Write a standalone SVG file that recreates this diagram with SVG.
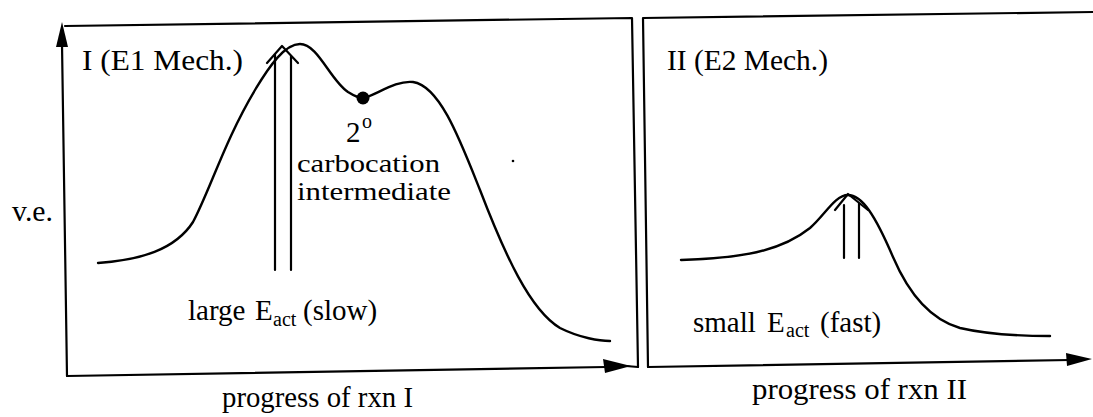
<svg xmlns="http://www.w3.org/2000/svg" width="1093" height="417" viewBox="0 0 1093 417">
<style>
.ln{fill:none;stroke:#000;stroke-width:2.2;stroke-linecap:round;stroke-linejoin:round}
.cv{fill:none;stroke:#000;stroke-width:2.4;stroke-linecap:round}
.t{font-family:"Liberation Serif","Times New Roman","DejaVu Serif",serif;font-size:29px;fill:#000}
.s{font-size:20px}
.m{font-size:25px}
.ah{fill:#000;stroke:none}
</style>
<rect width="1093" height="417" fill="#fff"/>
<g id="frame-I">
<path class="ln" d="M67,376 L62,44"/>
<polygon class="ah" points="62,22 56,47 68,47"/>
<path class="ln" d="M65,26 L632,18 L638,367"/>
<path class="ln" d="M67,376 L606,367 M626,366 L638,367"/>
<polygon class="ah" points="631,366 603,359 605,373"/>
</g>
<g id="frame-II">
<path class="ln" d="M648,367 L643,18 L1093,12"/>
<path class="ln" d="M648,367 L1070,360"/>
<polygon class="ah" points="1092,359 1066,353 1067,366"/>
</g>
<g id="curve-I">
<path class="cv" d="M98,263 C140,260 175,250 193,222 C210,190 225,140 255,90 C270,65 285,44 300,44 C318,44 330,80 348,92 C356,97 360,98 363,98 C375,96 395,80 413,82 C440,86 460,140 480,190 C505,255 530,310 560,328 C580,338 600,341 610,341"/>
<circle cx="363" cy="98" r="6.5" fill="#000"/>
<circle cx="513" cy="161" r="1.3" fill="#000"/>
</g>
<g id="curve-II">
<path class="cv" d="M681,260 C740,258 780,252 810,228 C825,215 835,195 848,195 C862,195 875,215 893,257 C905,285 925,318 960,328 C990,335 1020,336 1050,336"/>
</g>
<g id="connectors">
<path class="ln" d="M275,270 L275,54 M291,270 L291,56 M267,63 L282,46 L298,63"/>
<path class="ln" d="M844,258 L844,205 M859,258 L859,203 M835,210 L848,194 L868,210"/>
</g>
<g id="labels-I">
<text class="t" x="82" y="70" textLength="161" lengthAdjust="spacingAndGlyphs">I (E1 Mech.)</text>
<text class="t" x="12" y="221" textLength="41" lengthAdjust="spacingAndGlyphs">v.e.</text>
<text class="t" x="346" y="142">2</text>
<text class="t s" x="362" y="128">o</text>
<text class="t m" x="297" y="172" textLength="143" lengthAdjust="spacingAndGlyphs">carbocation</text>
<text class="t m" x="297" y="200" textLength="154" lengthAdjust="spacingAndGlyphs">intermediate</text>
<text class="t" y="320"><tspan x="188">large</tspan><tspan x="255">E</tspan><tspan class="s" x="273" y="326">act</tspan><tspan x="303" y="320">(slow)</tspan></text>
<text class="t" x="222" y="407" textLength="191" lengthAdjust="spacingAndGlyphs">progress of rxn I</text>
</g>
<g id="labels-II">
<text class="t" x="667" y="70" textLength="161" lengthAdjust="spacingAndGlyphs">II (E2 Mech.)</text>
<text class="t" y="332"><tspan x="693">small</tspan><tspan x="767">E</tspan><tspan class="s" x="786" y="337">act</tspan><tspan x="820" y="332">(fast)</tspan></text>
<text class="t" x="752" y="399" textLength="215" lengthAdjust="spacingAndGlyphs">progress of rxn II</text>
</g>
</svg>
